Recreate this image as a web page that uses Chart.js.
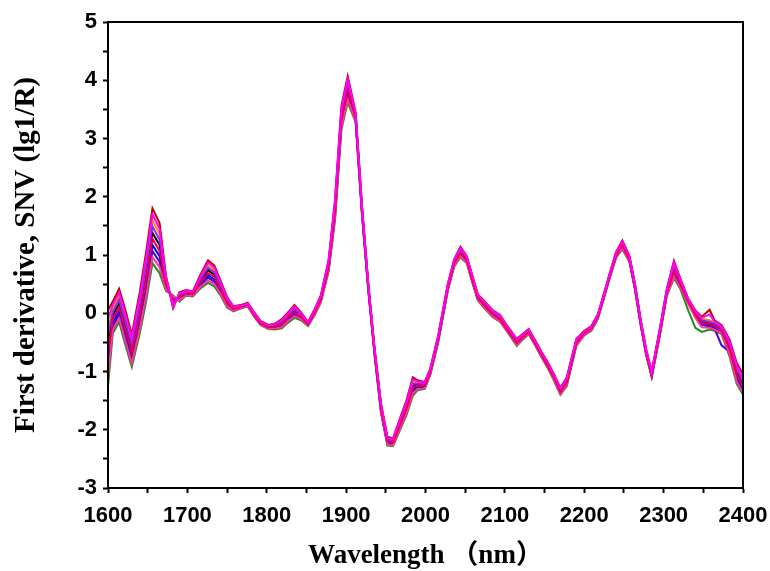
<!DOCTYPE html>
<html>
<head>
<meta charset="utf-8">
<script src="https://cdn.jsdelivr.net/npm/chart.js@4/dist/chart.umd.min.js"></script>
<style>
  html, body { margin: 0; padding: 0; background: #fff; }
  #wrap { width: 770px; height: 571px; }
</style>
</head>
<body>
<div id="wrap"><canvas id="spectra"></canvas></div>
<script>
// 波长 (nm)
const wavelengths = [
  1600, 1606, 1614, 1622, 1630, 1640, 1648, 1656, 1665, 1673,
  1682, 1690, 1698, 1707, 1716, 1726, 1734, 1742, 1750, 1758,
  1767, 1776, 1784, 1792, 1802, 1810, 1819, 1827, 1835, 1843,
  1852, 1860, 1868, 1878, 1886, 1894, 1902, 1912, 1920, 1928,
  1936, 1944, 1952, 1959, 1968, 1976, 1984, 1990, 1999, 2006,
  2016, 2028, 2036, 2044, 2052, 2060, 2066, 2072, 2084, 2094,
  2102, 2115, 2122, 2130, 2138, 2146, 2154, 2162, 2170, 2178,
  2190, 2200, 2209, 2217, 2224, 2232, 2240, 2248, 2257, 2264,
  2271, 2278, 2285, 2295, 2304, 2313, 2321, 2331, 2340, 2348,
  2358, 2364, 2373, 2383, 2392, 2400
];

// 一阶导数 + SNV 光谱 (每条样本一组)
const sample01 = [
  0.05, 0.20, 0.42, 0.05, -0.37, 0.36, 1.05, 1.80, 1.55, 0.65,
  0.09, 0.36, 0.40, 0.38, 0.65, 0.91, 0.82, 0.55, 0.28, 0.12,
  0.14, 0.18, 0.02, -0.13, -0.20, -0.18, -0.10, 0.02, 0.14, 0.02,
  -0.15, 0.06, 0.30, 0.92, 1.95, 3.55, 4.07, 3.45, 1.85, 0.50,
  -0.62, -1.55, -2.12, -2.15, -1.80, -1.50, -1.10, -1.15, -1.18, -0.95,
  -0.38, 0.50, 0.92, 1.14, 0.98, 0.60, 0.32, 0.24, 0.06, -0.03,
  -0.20, -0.44, -0.36, -0.27, -0.46, -0.66, -0.84, -1.05, -1.28, -1.10,
  -0.44, -0.30, -0.22, -0.02, 0.30, 0.68, 1.05, 1.25, 0.98, 0.50,
  -0.10, -0.62, -1.00, -0.28, 0.42, 0.90, 0.60, 0.25, 0.05, -0.06,
  0.06, -0.12, -0.20, -0.45, -0.85, -1.05
];
const sample02 = [
  -0.09, 0.14, 0.36, -0.02, -0.43, 0.28, 0.96, 1.70, 1.45, 0.62,
  0.11, 0.34, 0.39, 0.37, 0.62, 0.87, 0.78, 0.52, 0.26, 0.11,
  0.13, 0.17, 0.01, -0.14, -0.21, -0.19, -0.12, 0.00, 0.12, 0.00,
  -0.16, 0.05, 0.29, 0.90, 1.91, 3.51, 4.02, 3.43, 1.83, 0.49,
  -0.63, -1.57, -2.14, -2.16, -1.82, -1.53, -1.14, -1.17, -1.19, -0.96,
  -0.39, 0.49, 0.91, 1.12, 0.97, 0.59, 0.31, 0.23, 0.05, -0.04,
  -0.21, -0.45, -0.37, -0.28, -0.47, -0.67, -0.85, -1.06, -1.29, -1.12,
  -0.45, -0.31, -0.23, -0.03, 0.29, 0.67, 1.04, 1.23, 0.97, 0.49,
  -0.11, -0.63, -1.01, -0.29, 0.41, 0.87, 0.58, 0.24, 0.04, -0.08,
  -0.02, -0.14, -0.22, -0.48, -0.89, -1.09
];
const sample03 = [
  -0.24, 0.08, 0.29, -0.08, -0.49, 0.20, 0.86, 1.59, 1.36, 0.59,
  0.14, 0.32, 0.38, 0.36, 0.60, 0.82, 0.74, 0.49, 0.24, 0.10,
  0.13, 0.17, 0.00, -0.15, -0.22, -0.20, -0.14, -0.02, 0.09, -0.01,
  -0.17, 0.04, 0.27, 0.88, 1.87, 3.46, 3.97, 3.41, 1.81, 0.47,
  -0.65, -1.59, -2.15, -2.18, -1.84, -1.56, -1.17, -1.19, -1.21, -0.97,
  -0.41, 0.47, 0.89, 1.10, 0.95, 0.57, 0.30, 0.21, 0.03, -0.06,
  -0.22, -0.47, -0.38, -0.29, -0.48, -0.68, -0.86, -1.07, -1.31, -1.13,
  -0.47, -0.32, -0.24, -0.04, 0.28, 0.66, 1.03, 1.22, 0.96, 0.48,
  -0.12, -0.64, -1.02, -0.31, 0.39, 0.83, 0.56, 0.23, 0.02, -0.10,
  -0.12, -0.16, -0.24, -0.51, -0.93, -1.13
];
const sample04 = [
  -0.38, 0.02, 0.23, -0.15, -0.55, 0.12, 0.77, 1.49, 1.26, 0.56,
  0.16, 0.31, 0.37, 0.35, 0.57, 0.78, 0.70, 0.47, 0.22, 0.09,
  0.12, 0.16, 0.00, -0.15, -0.22, -0.21, -0.15, -0.04, 0.07, -0.03,
  -0.17, 0.03, 0.26, 0.85, 1.83, 3.42, 3.92, 3.39, 1.79, 0.46,
  -0.66, -1.61, -2.17, -2.19, -1.87, -1.58, -1.21, -1.21, -1.22, -0.99,
  -0.42, 0.46, 0.88, 1.08, 0.94, 0.56, 0.29, 0.20, 0.02, -0.07,
  -0.23, -0.48, -0.39, -0.30, -0.49, -0.69, -0.87, -1.09, -1.32, -1.15,
  -0.48, -0.33, -0.25, -0.05, 0.27, 0.65, 1.02, 1.20, 0.95, 0.47,
  -0.13, -0.65, -1.03, -0.32, 0.38, 0.80, 0.54, 0.22, 0.01, -0.12,
  -0.15, -0.18, -0.26, -0.54, -0.97, -1.17
];
const sample05 = [
  -0.53, -0.04, 0.17, -0.22, -0.61, 0.04, 0.67, 1.38, 1.17, 0.53,
  0.19, 0.29, 0.36, 0.34, 0.55, 0.74, 0.66, 0.44, 0.20, 0.08,
  0.11, 0.15, -0.01, -0.16, -0.23, -0.22, -0.17, -0.06, 0.04, -0.04,
  -0.18, 0.02, 0.25, 0.83, 1.79, 3.37, 3.87, 3.37, 1.77, 0.45,
  -0.67, -1.63, -2.19, -2.21, -1.89, -1.61, -1.24, -1.23, -1.23, -1.00,
  -0.43, 0.45, 0.87, 1.06, 0.93, 0.55, 0.28, 0.19, 0.01, -0.08,
  -0.24, -0.49, -0.40, -0.31, -0.50, -0.70, -0.88, -1.10, -1.33, -1.17,
  -0.49, -0.34, -0.26, -0.06, 0.26, 0.64, 1.01, 1.18, 0.94, 0.46,
  -0.14, -0.66, -1.04, -0.33, 0.37, 0.77, 0.52, 0.21, -0.01, -0.14,
  -0.17, -0.20, -0.28, -0.57, -1.01, -1.21
];
const sample06 = [
  -0.67, -0.11, 0.10, -0.28, -0.68, -0.04, 0.58, 1.28, 1.07, 0.50,
  0.21, 0.27, 0.34, 0.33, 0.52, 0.69, 0.62, 0.41, 0.18, 0.07,
  0.11, 0.15, -0.02, -0.17, -0.24, -0.23, -0.19, -0.07, 0.02, -0.06,
  -0.19, 0.01, 0.23, 0.81, 1.76, 3.33, 3.82, 3.36, 1.76, 0.43,
  -0.69, -1.64, -2.20, -2.22, -1.91, -1.64, -1.28, -1.24, -1.25, -1.01,
  -0.45, 0.43, 0.85, 1.04, 0.91, 0.53, 0.26, 0.17, -0.01, -0.10,
  -0.26, -0.51, -0.42, -0.32, -0.51, -0.71, -0.90, -1.11, -1.35, -1.18,
  -0.51, -0.34, -0.26, -0.06, 0.26, 0.64, 0.99, 1.17, 0.92, 0.44,
  -0.16, -0.68, -1.06, -0.35, 0.35, 0.73, 0.50, 0.20, -0.02, -0.16,
  -0.19, -0.22, -0.30, -0.60, -1.05, -1.25
];
const sample07 = [
  -0.82, -0.17, 0.04, -0.35, -0.74, -0.12, 0.48, 1.17, 0.98, 0.47,
  0.24, 0.25, 0.33, 0.32, 0.50, 0.65, 0.58, 0.38, 0.16, 0.06,
  0.10, 0.14, -0.03, -0.17, -0.24, -0.24, -0.21, -0.09, 0.00, -0.07,
  -0.20, 0.00, 0.22, 0.79, 1.72, 3.28, 3.77, 3.34, 1.74, 0.42,
  -0.70, -1.66, -2.22, -2.24, -1.93, -1.67, -1.31, -1.26, -1.26, -1.02,
  -0.46, 0.42, 0.84, 1.02, 0.90, 0.52, 0.25, 0.16, -0.02, -0.11,
  -0.27, -0.52, -0.43, -0.33, -0.52, -0.72, -0.91, -1.12, -1.36, -1.20,
  -0.52, -0.35, -0.27, -0.07, 0.25, 0.63, 0.98, 1.15, 0.91, 0.43,
  -0.17, -0.69, -1.07, -0.36, 0.34, 0.70, 0.48, 0.19, -0.04, -0.18,
  -0.21, -0.24, -0.32, -0.63, -1.09, -1.29
];
const sample08 = [
  -0.96, -0.23, -0.02, -0.42, -0.80, -0.19, 0.39, 1.07, 0.88, 0.44,
  0.26, 0.24, 0.32, 0.31, 0.47, 0.61, 0.54, 0.36, 0.14, 0.05,
  0.09, 0.13, -0.04, -0.18, -0.25, -0.25, -0.22, -0.11, -0.03, -0.09,
  -0.20, -0.02, 0.21, 0.76, 1.68, 3.24, 3.72, 3.32, 1.72, 0.41,
  -0.71, -1.68, -2.24, -2.25, -1.96, -1.69, -1.35, -1.28, -1.27, -1.03,
  -0.47, 0.41, 0.83, 1.00, 0.89, 0.51, 0.24, 0.15, -0.03, -0.12,
  -0.28, -0.53, -0.44, -0.34, -0.53, -0.73, -0.92, -1.13, -1.37, -1.22,
  -0.53, -0.36, -0.28, -0.08, 0.24, 0.62, 0.97, 1.13, 0.90, 0.42,
  -0.18, -0.70, -1.08, -0.37, 0.33, 0.67, 0.46, 0.18, -0.06, -0.20,
  -0.23, -0.26, -0.55, -0.66, -1.13, -1.33
];
const sample09 = [
  -1.11, -0.29, -0.09, -0.48, -0.86, -0.27, 0.29, 0.96, 0.79, 0.41,
  0.29, 0.22, 0.31, 0.30, 0.45, 0.56, 0.50, 0.33, 0.12, 0.04,
  0.09, 0.13, -0.05, -0.19, -0.26, -0.26, -0.24, -0.13, -0.05, -0.10,
  -0.21, -0.03, 0.19, 0.74, 1.64, 3.19, 3.67, 3.30, 1.70, 0.39,
  -0.73, -1.70, -2.25, -2.27, -1.98, -1.72, -1.38, -1.30, -1.29, -1.05,
  -0.49, 0.39, 0.81, 0.98, 0.87, 0.49, 0.23, 0.13, -0.05, -0.14,
  -0.29, -0.55, -0.45, -0.35, -0.54, -0.74, -0.93, -1.15, -1.39, -1.23,
  -0.55, -0.37, -0.29, -0.09, 0.23, 0.61, 0.96, 1.12, 0.89, 0.41,
  -0.19, -0.71, -1.09, -0.39, 0.31, 0.63, 0.44, 0.16, -0.08, -0.24,
  -0.25, -0.28, -0.34, -0.70, -1.17, -1.37
];
const sample10 = [
  -1.25, -0.35, -0.15, -0.55, -0.92, -0.35, 0.20, 0.86, 0.69, 0.38,
  0.31, 0.20, 0.30, 0.29, 0.42, 0.52, 0.46, 0.30, 0.10, 0.03,
  0.08, 0.12, -0.06, -0.20, -0.27, -0.28, -0.26, -0.16, -0.08, -0.12,
  -0.22, -0.04, 0.18, 0.72, 1.60, 3.15, 3.62, 3.28, 1.68, 0.38,
  -0.74, -1.72, -2.27, -2.28, -2.00, -1.75, -1.42, -1.32, -1.30, -1.06,
  -0.50, 0.38, 0.80, 0.96, 0.86, 0.48, 0.22, 0.12, -0.06, -0.15,
  -0.30, -0.56, -0.46, -0.36, -0.55, -0.75, -0.94, -1.16, -1.40, -1.25,
  -0.56, -0.38, -0.30, -0.10, 0.22, 0.60, 0.95, 1.10, 0.88, 0.40,
  -0.20, -0.72, -1.10, -0.40, 0.30, 0.60, 0.42, 0.05, -0.25, -0.32,
  -0.28, -0.30, -0.36, -0.74, -1.21, -1.40
];

const samples = [sample01, sample02, sample03, sample04, sample05,
                 sample06, sample07, sample08, sample09, sample10];
const lineColors = ['#c00000', '#ff00ff', '#ff8c00', '#8a2be2', '#000000',
                    '#e6004c', '#0000ff', '#4b00d1', '#ff3399', '#228b22'];
// 越小越在上层
const drawOrder = [3, 0, 8, 2, 7, 1, 6, 5, 4, 9];

const xTicksMajor = [1600, 1700, 1800, 1900, 2000, 2100, 2200, 2300, 2400];
const yTicksMajor = [-3, -2, -1, 0, 1, 2, 3, 4, 5];

const tickFont = { family: '"Liberation Sans", Arial, sans-serif', size: 22, weight: 'bold' };
const titleFamily = '"Liberation Serif", "Times New Roman", "Noto Sans CJK SC", serif';

// 外框
const framePlugin = {
  id: 'frame',
  afterDraw(chart) {
    const { ctx, chartArea: a } = chart;
    ctx.save();
    ctx.strokeStyle = '#000';
    ctx.lineWidth = 2;
    ctx.strokeRect(a.left, a.top, a.right - a.left, a.bottom - a.top);
    ctx.restore();
  }
};

document.addEventListener('DOMContentLoaded', () => {
  const ctx = document.getElementById('spectra').getContext('2d');
  new Chart(ctx, {
    type: 'line',
    data: {
      datasets: samples.map((s, i) => ({
        label: 'sample ' + (i + 1),
        data: wavelengths.map((w, j) => ({ x: w, y: s[j] })),
        borderColor: lineColors[i],
        borderWidth: 2,
        pointRadius: 0,
        fill: false,
        tension: 0,
        order: drawOrder[i]
      }))
    },
    options: {
      responsive: true,
      maintainAspectRatio: false,
      animation: false,
      layout: { padding: { left: 0, right: 27, top: 22, bottom: 0 } },
      plugins: { legend: { display: false }, tooltip: { enabled: false } },
      scales: {
        x: {
          type: 'linear',
          min: 1600,
          max: 2400,
          afterFit: (s) => { s.height = 83; s.paddingLeft = 0; s.paddingRight = 0; },
          ticks: {
            stepSize: 50,
            autoSkip: false,
            maxRotation: 0,
            padding: 10,
            color: '#000',
            font: tickFont,
            callback: (v) => xTicksMajor.includes(v) ? String(v) : ''
          },
          grid: { drawOnChartArea: false, drawTicks: true, tickLength: 5, tickWidth: 2, tickColor: '#000' },
          border: { display: true, color: '#000', width: 2 },
          title: {
            display: true,
            text: 'Wavelength （nm）',
            color: '#000',
            font: { family: titleFamily, size: 27, weight: 'bold', lineHeight: 1 },
            padding: { top: 0, bottom: 1 }
          }
        },
        y: {
          min: -3,
          max: 5,
          afterFit: (s) => { s.width = 108; s.paddingTop = 0; s.paddingBottom = 0; },
          ticks: {
            stepSize: 0.5,
            autoSkip: false,
            padding: 6,
            color: '#000',
            font: tickFont,
            callback: (v) => yTicksMajor.includes(v) ? String(v) : ''
          },
          grid: { drawOnChartArea: false, drawTicks: true, tickLength: 5, tickWidth: 2, tickColor: '#000' },
          border: { display: true, color: '#000', width: 2 },
          title: {
            display: true,
            text: 'First derivative, SNV (lg1/R)',
            color: '#000',
            font: { family: titleFamily, size: 29, weight: 'bold', lineHeight: 1.2 },
            padding: { top: 9, bottom: 0 }
          }
        }
      }
    },
    plugins: [framePlugin]
  });
});
</script>
</body>
</html>
